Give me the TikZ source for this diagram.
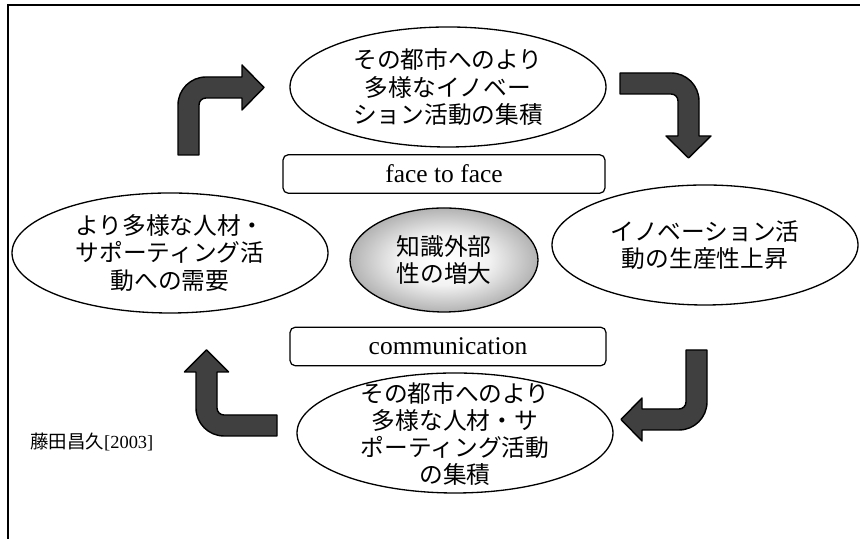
\documentclass[tikz,border=0pt]{standalone}
\usepackage{fontspec}
\setmainfont{Liberation Serif}
\newfontfamily\jpfont{Noto Sans CJK JP}
\usetikzlibrary{shapes.geometric}

\pgfdeclareradialshading{glow}{\pgfpoint{0bp}{0bp}}{color(0bp)=(white); color(12bp)=(black!5); color(25bp)=(black!30); color(50bp)=(black!30)}

\begin{document}
\begin{tikzpicture}[
  bubble/.style={ellipse, draw, line width=0.75pt, fill=white, inner sep=0pt,
    minimum width=6.32cm, minimum height=2.4cm},
  jtext/.style={align=center, font=\jpfont\fontsize{13.5}{15.5}\selectfont},
  tag/.style={draw, rounded corners=3pt, line width=0.7pt, inner sep=0pt,
    minimum height=0.77cm, font=\fontsize{14.5}{16}\selectfont},
  bendarrow/.style={fill=black!75, draw=black, line width=0.8pt, line join=round}
]

\useasboundingbox (0,0) rectangle (17.2,10.78);

% frame
\draw [line width=1.1pt] (0.16,0)--(0.16,10.68)--(17.2,10.68);

% the four stages
\node [bubble, jtext] (innov) at (8.96,9.04) {その都市へのより\\多様なイノベー\\ション活動の集積};
\node [bubble, jtext, minimum width=6.12cm] (prod) at (14.1,5.88) {イノベーション活\\動の生産性上昇};
\node [bubble] (talent) at (9.1,2.12) {};
\node [jtext, text depth=0pt] (talenttxt) at (talent) {その都市へのより\\多様な人材・サ\\ポーティング活動\\の集積};
\node [bubble, jtext] (demand) at (3.4,5.72) {より多様な人材・\\サポーティング活\\動への需要};

% centre
\node [bubble, jtext, shading=glow, shade,
  minimum width=3.76cm, minimum height=2.08cm] (extern) at (8.88,5.58) {知識外部\\性の増大};

% labels
\node [tag, minimum width=6.44cm] (face) at (8.88,7.30) {face to face};
\node [tag, minimum width=6.32cm] (comm) at (8.96,3.85) {communication};

\node [anchor=west, inner sep=0pt, font=\fontsize{10.5}{12}\selectfont] (cite) at (0.6,1.94) {{\jpfont 藤田昌久}[2003]};

% arrow up-right
\draw [bendarrow] (3.56,7.68)--(3.56,8.68) arc [start angle=180, end angle=90, radius=0.56]
  --(4.84,9.24)--(4.84,9.48)--(5.28,9.03)--(4.84,8.58)--(4.84,8.82)
  --(4.12,8.82) arc [start angle=90, end angle=180, radius=0.14]--(3.98,7.68)--cycle;

% arrow right-down
\draw [bendarrow] (12.4,9.32)--(13.42,9.32) arc [start angle=90, end angle=0, radius=0.56]
  --(13.98,8.06)--(14.22,8.06)--(13.77,7.62)--(13.32,8.06)--(13.56,8.06)
  --(13.56,8.76) arc [start angle=0, end angle=90, radius=0.14]--(12.4,8.90)--cycle;

% arrow down-left
\draw [bendarrow] (14.14,3.78)--(14.14,2.74) arc [start angle=0, end angle=-90, radius=0.56]
  --(12.84,2.18)--(12.84,1.96)--(12.42,2.39)--(12.84,2.82)--(12.84,2.60)
  --(13.58,2.60) arc [start angle=-90, end angle=0, radius=0.14]--(13.72,3.78)--cycle;

% arrow left-up
\draw [bendarrow] (5.54,2.06)--(4.48,2.06) arc [start angle=-90, end angle=-180, radius=0.56]
  --(3.92,3.34)--(3.69,3.34)--(4.13,3.78)--(4.57,3.34)--(4.34,3.34)
  --(4.34,2.62) arc [start angle=180, end angle=270, radius=0.14]--(5.54,2.48)--cycle;

\end{tikzpicture}
\end{document}
